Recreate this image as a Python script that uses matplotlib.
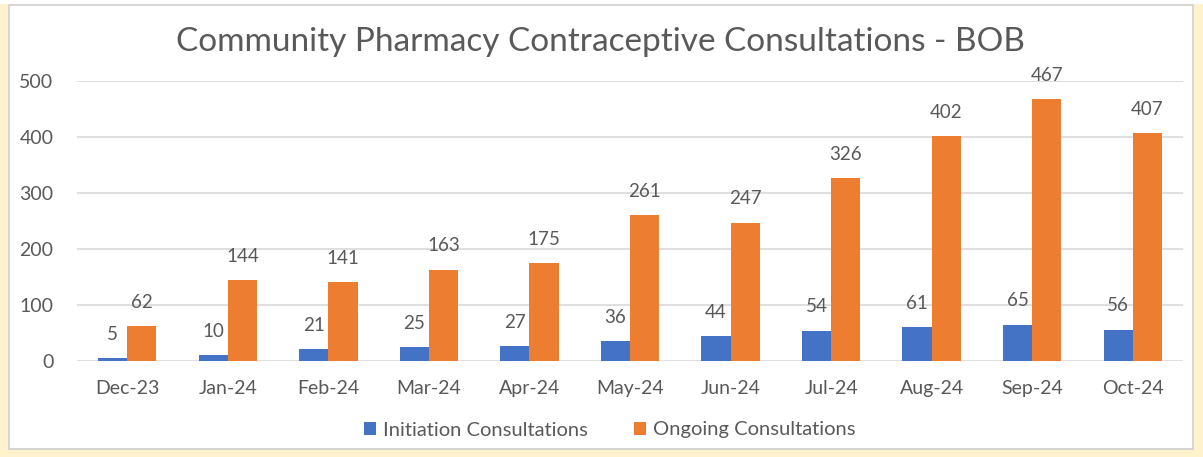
import matplotlib
matplotlib.use("Agg")
import matplotlib.pyplot as plt
import numpy as np
from matplotlib.patches import Rectangle

plt.rcParams['font.family'] = ['Lato', 'DejaVu Sans']

months = ["Dec-23", "Jan-24", "Feb-24", "Mar-24", "Apr-24", "May-24",
          "Jun-24", "Jul-24", "Aug-24", "Sep-24", "Oct-24"]
initiation = [5, 10, 21, 25, 27, 36, 44, 54, 61, 65, 56]
ongoing = [62, 144, 141, 163, 175, 261, 247, 326, 402, 467, 407]
series_names = ["Initiation Consultations", "Ongoing Consultations"]
title = "Community Pharmacy Contraceptive Consultations - BOB"

blue = "#4472C4"
orange = "#ED7D31"
text_c = "#595959"
grid_c = "#D9D9D9"

W, H = 1203, 457
fig = plt.figure(figsize=(W / 100, H / 100), dpi=100)

# frame
fig.patches.append(Rectangle((0, 0), 1, 1 - 4 / H, transform=fig.transFigure,
                             facecolor="#FFF2CC", edgecolor="none", zorder=-3))
fig.patches.append(Rectangle((9 / W, (H - 449) / H), (1193 - 9) / W, (449 - 5) / H,
                             transform=fig.transFigure, facecolor="white",
                             edgecolor="#D0D0D0", linewidth=1.2, zorder=-2))

ax = fig.add_axes([77 / W, (H - 361) / H, (1183 - 77) / W, (361 - 81) / H])
ax.set_facecolor("none")
x = np.arange(len(months))
w = 0.29
b1 = ax.bar(x - w / 2, initiation, w, color=blue, label=series_names[0], zorder=3)
b2 = ax.bar(x + w / 2, ongoing, w, color=orange, label=series_names[1], zorder=3)

for bars, vals in ((b1, initiation), (b2, ongoing)):
    for r, v in zip(bars, vals):
        ax.annotate(str(v), (r.get_x() + r.get_width() / 2, r.get_height()),
                    xytext=(0, 11), textcoords="offset points", ha="center",
                    va="bottom", fontsize=13.5, color=text_c)

ax.set_xlim(-0.5, len(months) - 0.5)
ax.set_ylim(0, 500)
ax.set_yticks(range(0, 501, 100))
ax.set_xticks(x)
ax.set_xticklabels(months)
ax.yaxis.grid(True, color=grid_c, linewidth=1.2, zorder=0)
ax.set_axisbelow(True)
for s in ax.spines.values():
    s.set_visible(False)
ax.tick_params(axis="both", length=0, labelsize=14, colors=text_c)
ax.tick_params(axis="y", pad=17)
ax.tick_params(axis="x", pad=14)

fig.text(600 / W, (H - 42) / H, title, ha="center", va="center",
         fontsize=24, color=text_c)

leg = fig.legend(handles=[b1, b2], loc="center", bbox_to_anchor=(610 / W, (H - 430) / H),
                 ncol=2, frameon=False, fontsize=14.5, handlelength=0.6,
                 handleheight=0.6, handletextpad=0.35, columnspacing=2.3)
for t in leg.get_texts():
    t.set_color(text_c)

fig.savefig("out.png", dpi=100)
